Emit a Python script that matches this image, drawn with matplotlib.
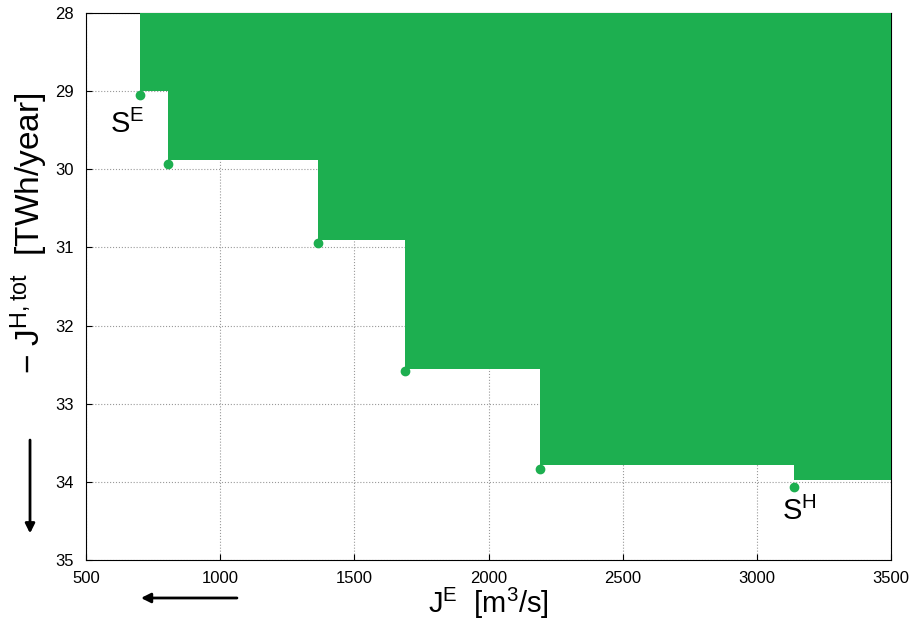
import numpy as np
import matplotlib
matplotlib.use("Agg")
import matplotlib.pyplot as plt

plt.rcParams['font.family'] = ['Liberation Sans', 'DejaVu Sans']
plt.rcParams['mathtext.fontset'] = 'custom'
plt.rcParams['mathtext.rm'] = 'Liberation Sans'
plt.rcParams['mathtext.it'] = 'Liberation Sans:italic'

# Pareto points (J^E, -J^H,tot)
je_pts = [700, 806, 1365, 1687, 2192, 3140]
jh_pts = [29.05, 29.93, 30.94, 32.58, 33.84, 34.06]

# corners of the dominated region
je_steps = [700, 806, 1365, 1687, 2192, 3140]
jh_steps = [29.0, 29.88, 30.9, 32.55, 33.78, 33.98]

green = '#1daf50'

fig = plt.figure(figsize=(9.15, 6.22), dpi=100)
ax = fig.add_axes([0.094, 0.0997, 0.8798, 0.8794])

# staircase outline of the filled region
xs = [je_steps[0]]
ys = [28]
for i in range(len(je_steps)):
    xs.append(je_steps[i])
    ys.append(jh_steps[i])
    nx = je_steps[i + 1] if i + 1 < len(je_steps) else 3500
    xs.append(nx)
    ys.append(jh_steps[i])
xs.append(3500)
ys.append(28)
ax.fill(xs, ys, color=green, lw=0, zorder=3)

ax.plot(je_pts, jh_pts, 'o', color=green, ms=6, zorder=4, clip_on=False)

ax.text(653, 29.42, r'S$^{\rm E}$', fontsize=21, ha='center', va='center')
ax.text(3160, 34.38, r'S$^{\rm H}$', fontsize=21, ha='center', va='center')

ax.set_xlim(500, 3500)
ax.set_ylim(35, 28)
ax.set_xticks(np.arange(500, 3501, 500))
ax.set_yticks(np.arange(28, 36, 1))
ax.tick_params(labelsize=12, direction='in', length=4)
ax.tick_params(axis='x', pad=8)
ax.tick_params(axis='y', pad=9)
ax.grid(True, linestyle=':', color='#999999', lw=0.8)
ax.set_axisbelow(True)

ax.set_xlabel(r'J$^{\rm E}$  [m$^{3}$/s]', fontsize=21)
ax.xaxis.set_label_coords(0.5, -0.048)
ax.set_ylabel(r'$-$ J$^{\rm H,tot}$  [TWh/year]', fontsize=24)
ax.yaxis.set_label_coords(-0.045, 0.598)

# direction arrows
fig.patches.append(matplotlib.patches.FancyArrowPatch(
    (0.0328, 0.297), (0.0328, 0.138), transform=fig.transFigure,
    arrowstyle='-|>', mutation_scale=14, lw=2, color='black'))
fig.patches.append(matplotlib.patches.FancyArrowPatch(
    (0.262, 0.0386), (0.151, 0.0386), transform=fig.transFigure,
    arrowstyle='-|>', mutation_scale=14, lw=2, color='black'))

fig.savefig('out.png', dpi=100)
